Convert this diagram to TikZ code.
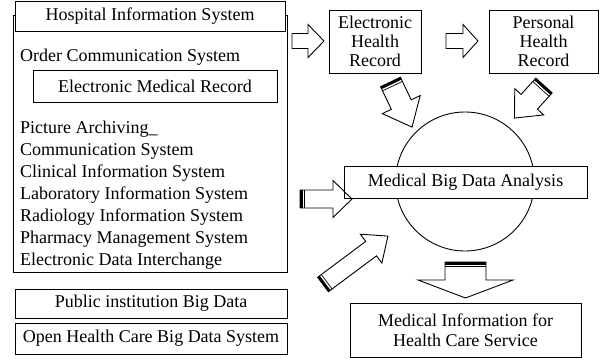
\documentclass[tikz,border=0pt]{standalone}
\usepackage{fontspec}
\setmainfont{Liberation Serif}
\begin{document}
\begin{tikzpicture}[x=1pt,y=-1pt,
  lw/.style={line width=0.9pt},
  box/.style={draw,lw,fill=white,rectangle,inner sep=0pt,align=center,
              font=\fontsize{18}{19}\selectfont},
  item/.style={anchor=base west,inner sep=0pt,font=\fontsize{18}{22}\selectfont},
  arrowline/.style={draw,lw,line join=miter}]

% block arrow: tail point, direction, length, head length, shaft half-width, head half-width
\newcommand\blockarrow[6]{%
  \begin{scope}[shift={#1},rotate=#2]
    \draw[arrowline] (0,-#5) -- ({#3-#4},-#5) -- ({#3-#4},-#6) -- (#3,0)
       -- ({#3-#4},#6) -- ({#3-#4},#5) -- (0,#5) -- cycle;
  \end{scope}}
% same, with the heavy double bar across the tail
\newcommand\bandarrow[6]{%
  \begin{scope}[shift={#1},rotate=#2]
    \draw[arrowline] (0,-#5) -- ({#3-#4},-#5) -- ({#3-#4},-#6) -- (#3,0)
       -- ({#3-#4},#6) -- ({#3-#4},#5) -- (0,#5) -- cycle;
    \fill (0,-#5) rectangle (2.6,#5);
    \draw[line width=0.7pt] (4.6,-#5) -- (4.6,#5);
  \end{scope}}

\useasboundingbox (0,0) rectangle (611,359);

% hospital information system frame
\node[draw,lw,rectangle,inner sep=0pt,minimum width=274pt,minimum height=257pt] (his) at (150,143.5) {};
\node[box,minimum width=270pt,minimum height=30pt] (histitle) at (150,16) {Hospital Information System};
\node[item] (ocs) at (20,61) {Order Communication System};
\node[box,minimum width=244pt,minimum height=32pt] (emr) at (155,86) {Electronic Medical Record};
\foreach \t [count=\i] in {Picture Archiving\_,Communication System,Clinical Information System,
    Laboratory Information System,Radiology Information System,
    Pharmacy Management System,Electronic Data Interchange}
  \node[item] (sys\i) at (20,{111+22*\i}) {\t};

% external big data sources
\node[box,minimum width=272pt,minimum height=29pt] (pub) at (151,303.5) {Public institution Big Data};
\node[box,minimum width=272pt,minimum height=31pt] (open) at (151,338.5) {Open Health Care Big Data System};

% health records
\node[box,minimum width=92pt,minimum height=63pt] (ehr) at (375,41.5) {Electronic\\Health\\Record};
\node[box,minimum width=109pt,minimum height=63pt] (phr) at (543.5,41.5) {Personal\\Health\\Record};

% analysis hub
\node[draw,lw,circle,minimum size=139pt,inner sep=0pt] (hub) at (465,181.5) {};
\node[box,minimum width=243pt,minimum height=32pt] (mbda) at (465.5,182) {Medical Big Data Analysis};

% output
\node[box,minimum width=231pt,minimum height=54pt,font=\fontsize{18}{20}\selectfont] (svc) at (465.5,330)
  {Medical Information for\\Health Care Service};

% flows
\blockarrow{(292,41)}{0}{32}{16}{7.5}{16.5}
\blockarrow{(446,41)}{0}{32}{15}{7.5}{16.5}
\bandarrow{(390.5,82)}{-64.5}{50}{25}{11}{21}
\bandarrow{(544,85.5)}{-132.2}{44}{22}{11}{19.5}
\bandarrow{(300,199)}{0}{52}{19}{9}{18.5}
\bandarrow{(323,284.5)}{36.7}{81}{21}{9}{18}
\bandarrow{(465.5,262)}{-90}{36}{18}{20.5}{47.5}
\end{tikzpicture}
\end{document}
